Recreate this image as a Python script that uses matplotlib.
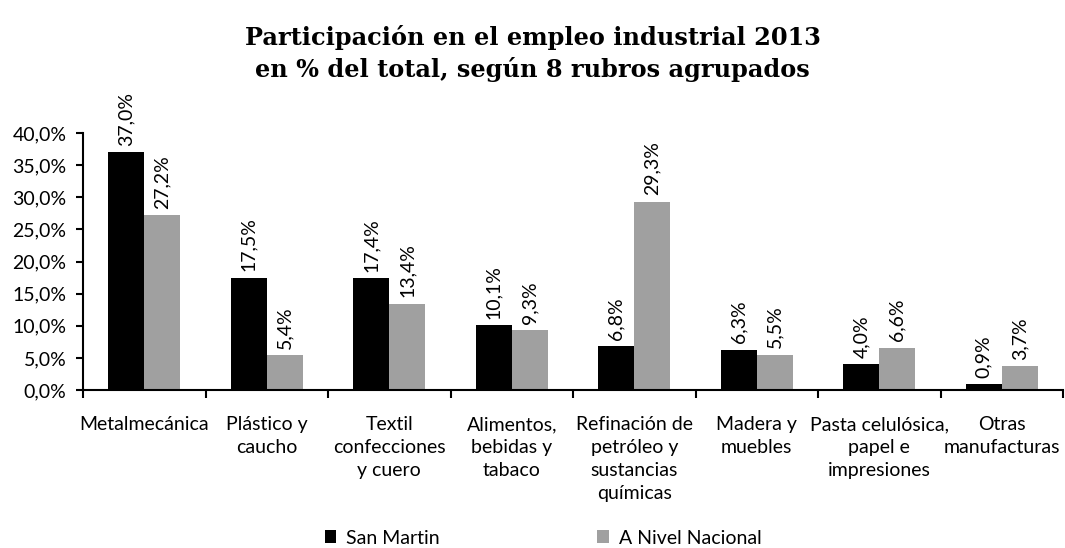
import matplotlib
matplotlib.use("Agg")
import matplotlib.pyplot as plt
import numpy as np
from matplotlib.patches import Patch

categories = ["Metalmecánica", "Plástico y\ncaucho", "Textil\nconfecciones\ny cuero",
              "Alimentos,\nbebidas y\ntabaco", "Refinación de\npetróleo y\nsustancias\nquímicas",
              "Madera y\nmuebles", "Pasta celulósica,\npapel e\nimpresiones", "Otras\nmanufacturas"]
san_martin = [37.0, 17.5, 17.4, 10.1, 6.8, 6.3, 4.0, 0.9]
nacional = [27.2, 5.4, 13.4, 9.3, 29.3, 5.5, 6.6, 3.7]
series_names = ["San Martin", "A Nivel Nacional"]
yticks = [0, 5, 10, 15, 20, 25, 30, 35, 40]

FONT = ["Lato", "DejaVu Sans"]
plt.rcParams['font.family'] = FONT

fig = plt.figure(figsize=(10.65, 5.48), dpi=100)
ax = fig.add_axes([83/1065, 1-390/548, (1063-83)/1065, (390-133)/548])

n = len(categories)
x = np.arange(n)
w = 0.294
c1, c2 = "#000000", "#a0a0a0"
ax.bar(x, san_martin, width=w, align='edge', color=c1)
ax.bar(x + w, nacional, width=w, align='edge', color=c2)
ax.set_xlim(w - 0.5, n - 0.5 + w)

fs = 14
for i in range(n):
    ax.text(x[i] + w/2, san_martin[i] + 1.0, f"{san_martin[i]:.1f}%".replace('.', ','),
            rotation=90, ha='center', va='bottom', fontsize=fs)
    ax.text(x[i] + 1.5*w, nacional[i] + 1.0, f"{nacional[i]:.1f}%".replace('.', ','),
            rotation=90, ha='center', va='bottom', fontsize=fs)

ax.set_ylim(0, 40)
ax.set_yticks(yticks)
ax.set_yticklabels([f"{v:.1f}%".replace('.', ',') for v in yticks], fontsize=fs)
ax.set_xticks(x + w)
ax.set_xticklabels(categories, fontsize=fs, linespacing=1.42)
ax.tick_params(axis='x', length=0, pad=19)
ax.set_xticks(np.arange(n + 1) + w - 0.5, minor=True)
ax.tick_params(axis='x', which='minor', length=6, width=1.5, direction='out')
ax.tick_params(axis='y', length=5, width=1.5, direction='out', pad=7)
for s in ['top', 'right']:
    ax.spines[s].set_visible(False)
ax.spines['left'].set_linewidth(1.5)
ax.spines['bottom'].set_linewidth(1.5)

fig.text(0.5, 1 - 38/548, "Participación en el empleo industrial 2013",
         ha='center', va='center', fontsize=17.3, fontweight='bold', family='DejaVu Serif')
fig.text(0.5, 1 - 70/548, "en % del total, según 8 rubros agrupados",
         ha='center', va='center', fontsize=17.3, fontweight='bold', family='DejaVu Serif')

handles = [Patch(facecolor=c1), Patch(facecolor=c2)]
fig.legend(handles, series_names, loc='center', bbox_to_anchor=(0.51, 1 - 538/548),
           ncol=2, frameon=False, fontsize=fs, handlelength=0.6, handleheight=0.6,
           handletextpad=0.5, columnspacing=8.1)

fig.savefig("out.png", dpi=100)
